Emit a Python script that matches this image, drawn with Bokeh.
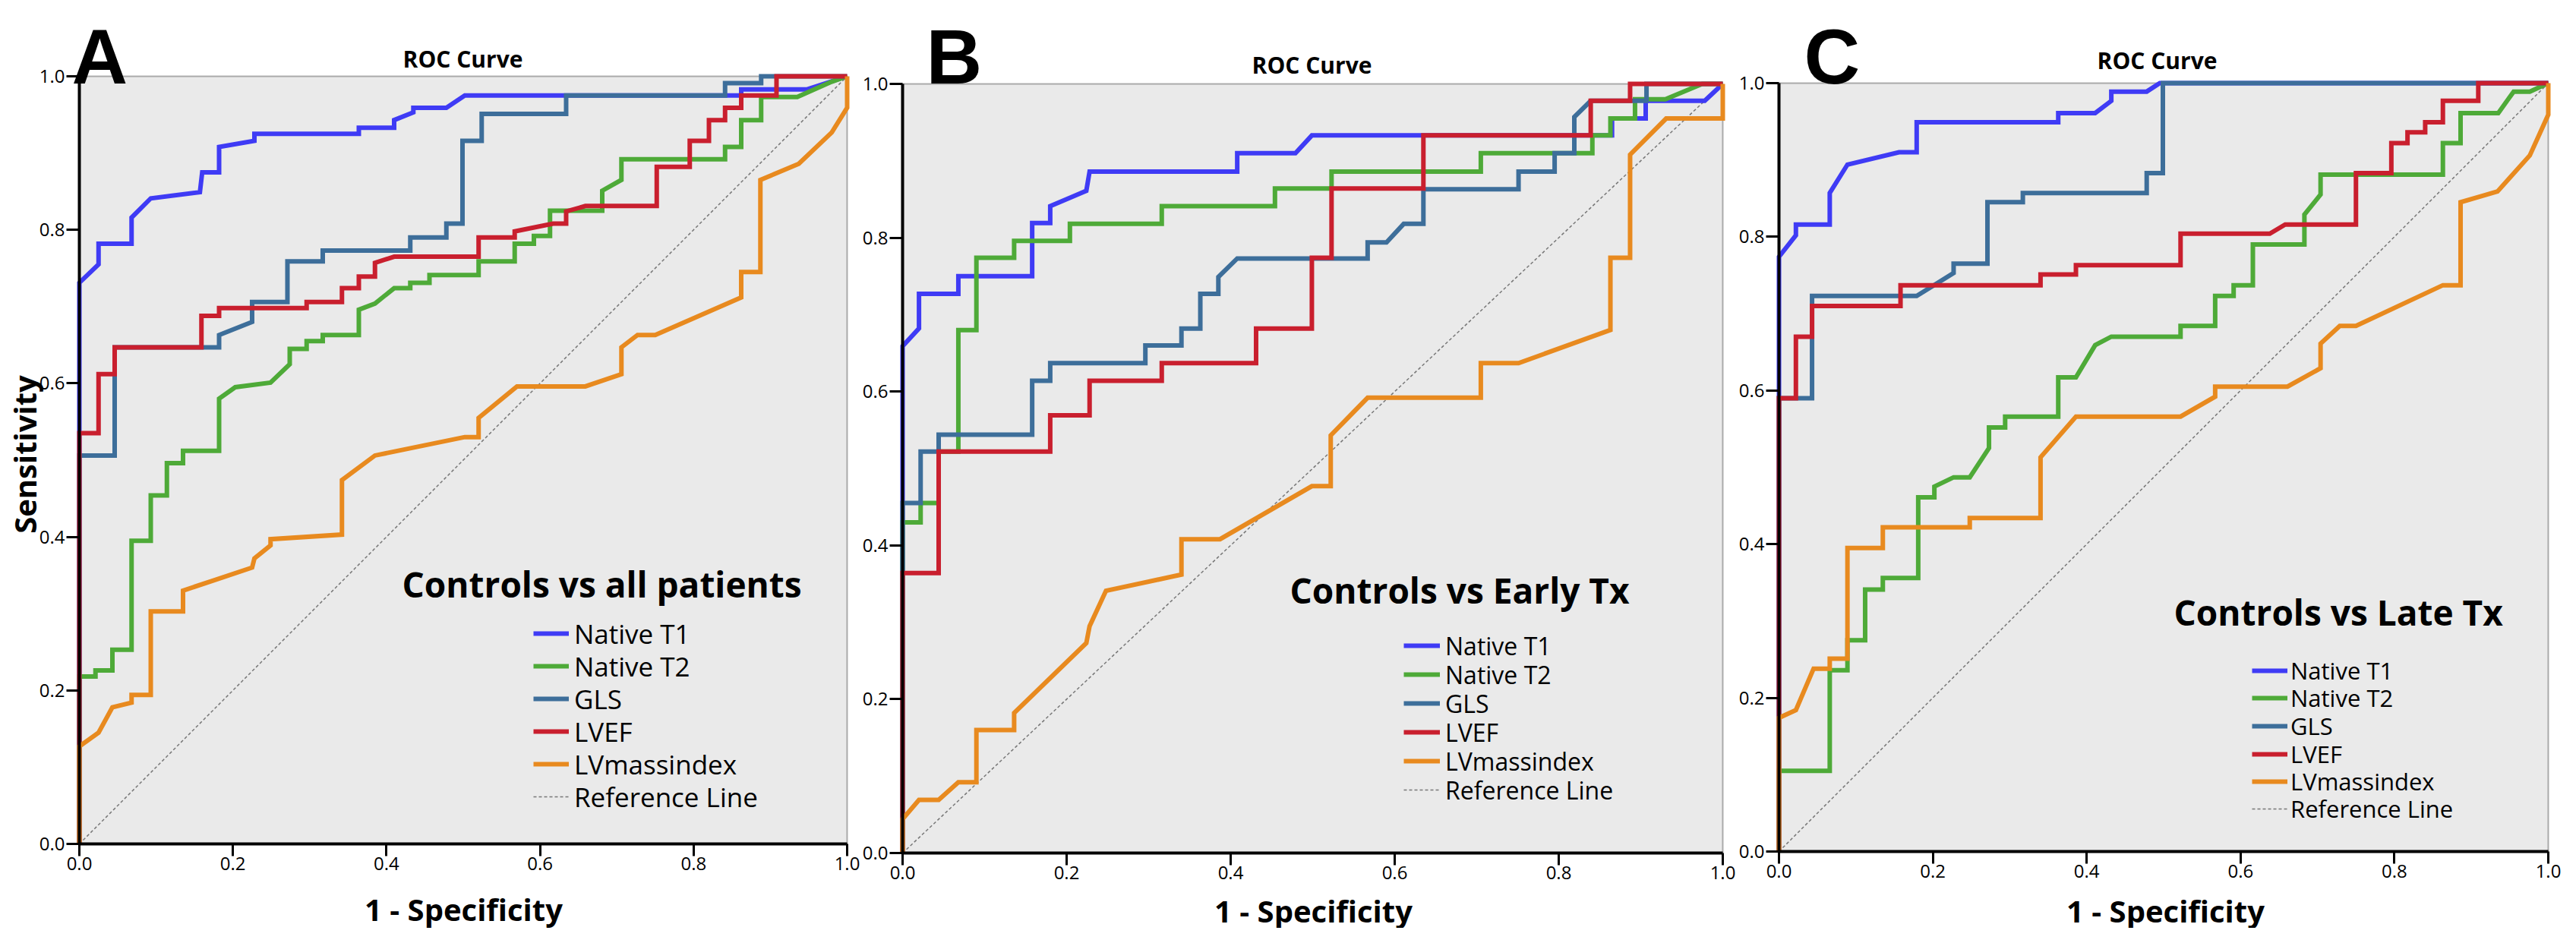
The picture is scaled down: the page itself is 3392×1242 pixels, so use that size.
import math
from bokeh.plotting import figure
from bokeh.models import (Range1d, Label, Legend, LegendItem, FixedTicker, NumeralTickFormatter,
                          BoxAnnotation)
from bokeh.layouts import row
from bokeh.embed import file_html
from bokeh.resources import INLINE

# ---------------- data ----------------
SERIES = ["Native T1", "Native T2", "GLS", "LVEF", "LVmassindex"]
COLORS = ["#3F3BF5", "#4EAA38", "#3D6E9A", "#C91F2E", "#E88A1F"]
TICKS = [0.0, 0.2, 0.4, 0.6, 0.8, 1.0]
REF_X = [0.0, 1.0]
REF_Y = [0.0, 1.0]
PANELS = ["A", "B", "C"]
GROUPS = ["Controls vs all patients", "Controls vs Early Tx", "Controls vs Late Tx"]

# Panel A: Controls vs all patients  (x = 1 - specificity, y = sensitivity)
A_T1_X = [0, 0, 0.025, 0.025, 0.068, 0.068, 0.093, 0.157, 0.160, 0.182, 0.182, 0.228, 0.228, 0.364, 0.364,
          0.41, 0.41, 0.435, 0.435, 0.478, 0.502, 0.862, 0.862, 0.948, 1.0]
A_T1_Y = [0, 0.731, 0.755, 0.782, 0.782, 0.816, 0.841, 0.849, 0.875, 0.875, 0.908, 0.916, 0.925, 0.925, 0.933,
          0.933, 0.943, 0.953, 0.959, 0.959, 0.975, 0.975, 0.983, 0.983, 1.0]
A_T2_X = [0, 0, 0.021, 0.021, 0.043, 0.043, 0.068, 0.068, 0.093, 0.093, 0.114, 0.114, 0.135, 0.135, 0.182,
          0.182, 0.203, 0.249, 0.274, 0.274, 0.296, 0.296, 0.317, 0.317, 0.364, 0.364, 0.385, 0.41, 0.431,
          0.431, 0.456, 0.456, 0.520, 0.520, 0.567, 0.567, 0.592, 0.592, 0.613, 0.613, 0.681, 0.681, 0.706,
          0.706, 0.841, 0.841, 0.862, 0.862, 0.888, 0.888, 0.935, 0.98, 1.0]
A_T2_Y = [0, 0.218, 0.218, 0.226, 0.226, 0.253, 0.253, 0.395, 0.395, 0.454, 0.454, 0.496, 0.496, 0.512, 0.512,
          0.58, 0.595, 0.601, 0.625, 0.645, 0.645, 0.655, 0.655, 0.663, 0.663, 0.696, 0.704, 0.724, 0.724,
          0.731, 0.731, 0.741, 0.741, 0.759, 0.759, 0.782, 0.782, 0.792, 0.792, 0.825, 0.825, 0.851, 0.865,
          0.892, 0.892, 0.908, 0.908, 0.943, 0.943, 0.973, 0.973, 0.993, 1.0]
A_GLS_X = [0, 0, 0.046, 0.046, 0.182, 0.182, 0.225, 0.225, 0.271, 0.271, 0.317, 0.317, 0.431, 0.431, 0.478,
           0.478, 0.499, 0.499, 0.524, 0.524, 0.634, 0.634, 0.841, 0.841, 0.888, 0.888, 1.0]
A_GLS_Y = [0, 0.506, 0.506, 0.647, 0.647, 0.663, 0.680, 0.706, 0.706, 0.759, 0.759, 0.773, 0.773, 0.790, 0.790,
           0.808, 0.808, 0.916, 0.916, 0.951, 0.951, 0.975, 0.975, 0.991, 0.991, 1.0, 1.0]
A_LVEF_X = [0, 0, 0.025, 0.025, 0.046, 0.046, 0.159, 0.159, 0.182, 0.182, 0.296, 0.296, 0.342, 0.342, 0.364,
            0.364, 0.385, 0.385, 0.41, 0.520, 0.520, 0.567, 0.567, 0.617, 0.634, 0.634, 0.659, 0.752, 0.752,
            0.795, 0.795, 0.82, 0.82, 0.841, 0.841, 0.862, 0.862, 0.908, 0.908, 1.0]
A_LVEF_Y = [0, 0.535, 0.535, 0.612, 0.612, 0.647, 0.647, 0.688, 0.688, 0.698, 0.698, 0.706, 0.706, 0.724, 0.724,
            0.739, 0.739, 0.757, 0.765, 0.765, 0.790, 0.790, 0.798, 0.808, 0.808, 0.824, 0.831, 0.831, 0.882,
            0.882, 0.916, 0.916, 0.943, 0.943, 0.959, 0.959, 0.975, 0.975, 1.0, 1.0]
A_LVM_X = [0, 0, 0.025, 0.043, 0.068, 0.068, 0.093, 0.093, 0.135, 0.135, 0.225, 0.228, 0.249, 0.249, 0.342,
           0.342, 0.385, 0.502, 0.52, 0.52, 0.570, 0.659, 0.706, 0.706, 0.727, 0.75, 0.862, 0.862, 0.887,
           0.887, 0.937, 0.98, 1.0, 1.0]
A_LVM_Y = [0, 0.127, 0.145, 0.178, 0.184, 0.194, 0.194, 0.303, 0.303, 0.33, 0.36, 0.372, 0.389, 0.397, 0.403,
           0.474, 0.506, 0.53, 0.53, 0.555, 0.596, 0.596, 0.612, 0.647, 0.663, 0.663, 0.712, 0.745, 0.745,
           0.865, 0.886, 0.927, 0.959, 1.0]

# Panel B: Controls vs Early Tx
B_T1_X = [0, 0, 0.020, 0.020, 0.068, 0.068, 0.158, 0.158, 0.18, 0.18, 0.224, 0.228, 0.408, 0.408, 0.479,
          0.499, 0.865, 0.865, 0.906, 0.906, 0.978, 1.0]
B_T1_Y = [0, 0.659, 0.682, 0.727, 0.727, 0.750, 0.750, 0.819, 0.819, 0.841, 0.861, 0.886, 0.886, 0.91, 0.91,
          0.933, 0.933, 0.955, 0.955, 0.978, 0.978, 1.0]
B_T2_X = [0, 0, 0.022, 0.022, 0.044, 0.044, 0.068, 0.068, 0.09, 0.09, 0.136, 0.136, 0.204, 0.204, 0.316,
          0.316, 0.454, 0.454, 0.523, 0.523, 0.705, 0.705, 0.841, 0.841, 0.863, 0.863, 0.893, 0.893, 0.93,
          0.975, 1.0]
B_T2_Y = [0, 0.430, 0.430, 0.455, 0.455, 0.522, 0.522, 0.68, 0.68, 0.774, 0.774, 0.796, 0.796, 0.818, 0.818,
          0.841, 0.841, 0.864, 0.864, 0.886, 0.886, 0.91, 0.91, 0.933, 0.933, 0.955, 0.955, 0.98, 0.98,
          1.0, 1.0]
B_GLS_X = [0, 0, 0.022, 0.022, 0.044, 0.044, 0.158, 0.158, 0.18, 0.18, 0.296, 0.296, 0.34, 0.34, 0.363,
           0.363, 0.385, 0.385, 0.408, 0.567, 0.567, 0.59, 0.611, 0.635, 0.635, 0.751, 0.751, 0.795, 0.795,
           0.819, 0.819, 0.839, 0.907, 0.907, 1.0]
B_GLS_Y = [0, 0.455, 0.455, 0.522, 0.522, 0.544, 0.544, 0.614, 0.614, 0.637, 0.637, 0.660, 0.660, 0.682, 0.682,
           0.727, 0.727, 0.749, 0.773, 0.773, 0.794, 0.794, 0.818, 0.818, 0.863, 0.863, 0.886, 0.886, 0.91,
           0.91, 0.957, 0.978, 0.978, 1.0, 1.0]
B_LVEF_X = [0, 0, 0.044, 0.044, 0.18, 0.18, 0.228, 0.228, 0.316, 0.316, 0.431, 0.431, 0.499, 0.499, 0.523,
            0.523, 0.635, 0.635, 0.839, 0.839, 0.887, 0.887, 1.0]
B_LVEF_Y = [0, 0.364, 0.364, 0.522, 0.522, 0.569, 0.569, 0.614, 0.614, 0.637, 0.637, 0.682, 0.682, 0.774, 0.774,
            0.864, 0.864, 0.933, 0.933, 0.978, 0.978, 1.0, 1.0]
B_LVM_X = [0, 0, 0.020, 0.044, 0.068, 0.09, 0.09, 0.136, 0.136, 0.224, 0.228, 0.248, 0.34, 0.34, 0.387,
           0.499, 0.522, 0.522, 0.567, 0.705, 0.705, 0.751, 0.863, 0.863, 0.887, 0.887, 0.931, 1.0, 1.0]
B_LVM_Y = [0, 0.044, 0.069, 0.069, 0.092, 0.092, 0.16, 0.16, 0.182, 0.273, 0.295, 0.341, 0.362, 0.408, 0.408,
           0.477, 0.477, 0.543, 0.592, 0.592, 0.637, 0.637, 0.68, 0.774, 0.774, 0.908, 0.955, 0.955, 1.0]

# Panel C: Controls vs Late Tx
C_T1_X = [0, 0, 0.022, 0.022, 0.066, 0.066, 0.089, 0.156, 0.179, 0.179, 0.363, 0.363, 0.411, 0.432, 0.432,
          0.478, 0.495, 1.0]
C_T1_Y = [0, 0.774, 0.802, 0.816, 0.816, 0.857, 0.894, 0.910, 0.910, 0.949, 0.949, 0.961, 0.961, 0.977, 0.989,
          0.989, 1.0, 1.0]
C_T2_X = [0, 0, 0.066, 0.066, 0.089, 0.089, 0.112, 0.112, 0.135, 0.135, 0.181, 0.181, 0.202, 0.202, 0.227,
          0.248, 0.273, 0.273, 0.294, 0.294, 0.363, 0.363, 0.386, 0.411, 0.432, 0.522, 0.522, 0.567, 0.567,
          0.591, 0.591, 0.616, 0.616, 0.683, 0.683, 0.704, 0.704, 0.863, 0.863, 0.886, 0.886, 0.935, 0.955,
          0.976, 1.0]
C_T2_Y = [0, 0.105, 0.105, 0.236, 0.236, 0.275, 0.275, 0.341, 0.341, 0.356, 0.356, 0.461, 0.461, 0.475, 0.487,
          0.487, 0.525, 0.552, 0.552, 0.566, 0.566, 0.617, 0.617, 0.659, 0.67, 0.67, 0.684, 0.684, 0.723,
          0.723, 0.737, 0.737, 0.790, 0.790, 0.829, 0.855, 0.881, 0.881, 0.922, 0.922, 0.961, 0.961, 0.989,
          0.989, 1.0]
C_GLS_X = [0, 0, 0.043, 0.043, 0.179, 0.227, 0.227, 0.271, 0.271, 0.317, 0.317, 0.478, 0.478, 0.499, 0.499, 1.0]
C_GLS_Y = [0, 0.59, 0.59, 0.723, 0.723, 0.753, 0.765, 0.765, 0.845, 0.845, 0.857, 0.857, 0.883, 0.883, 1.0, 1.0]
C_LVEF_X = [0, 0, 0.022, 0.022, 0.043, 0.043, 0.158, 0.158, 0.34, 0.34, 0.386, 0.386, 0.522, 0.522, 0.638,
            0.658, 0.75, 0.75, 0.796, 0.796, 0.817, 0.817, 0.84, 0.84, 0.863, 0.863, 0.909, 0.909, 1.0]
C_LVEF_Y = [0, 0.59, 0.59, 0.67, 0.67, 0.710, 0.710, 0.737, 0.737, 0.751, 0.751, 0.763, 0.763, 0.804, 0.804,
            0.816, 0.816, 0.883, 0.883, 0.922, 0.922, 0.936, 0.936, 0.949, 0.949, 0.977, 0.977, 1.0, 1.0]
C_LVM_X = [0, 0, 0.022, 0.045, 0.066, 0.066, 0.089, 0.089, 0.135, 0.135, 0.248, 0.248, 0.34, 0.34, 0.386,
           0.522, 0.567, 0.567, 0.661, 0.704, 0.704, 0.729, 0.75, 0.863, 0.886, 0.886, 0.934, 0.976, 1.0, 1.0]
C_LVM_Y = [0, 0.174, 0.184, 0.238, 0.238, 0.251, 0.251, 0.395, 0.395, 0.422, 0.422, 0.434, 0.434, 0.513, 0.566,
           0.566, 0.592, 0.605, 0.605, 0.629, 0.661, 0.684, 0.684, 0.737, 0.737, 0.845, 0.859, 0.906, 0.959, 1.0]

CURVES = {
    "A": [(A_T1_X, A_T1_Y), (A_T2_X, A_T2_Y), (A_GLS_X, A_GLS_Y), (A_LVEF_X, A_LVEF_Y), (A_LVM_X, A_LVM_Y)],
    "B": [(B_T1_X, B_T1_Y), (B_T2_X, B_T2_Y), (B_GLS_X, B_GLS_Y), (B_LVEF_X, B_LVEF_Y), (B_LVM_X, B_LVM_Y)],
    "C": [(C_T1_X, C_T1_Y), (C_T2_X, C_T2_Y), (C_GLS_X, C_GLS_Y), (C_LVEF_X, C_LVEF_Y), (C_LVM_X, C_LVM_Y)],
}

# ---------------- layout, in page pixels (8px page margin included) ----------------
PAGE_TOP, PAGE_BOTTOM = 8, 1230
CANVAS_X = {"A": (8, 1141), "B": (1141, 2296), "C": (2296, 3380)}
PLOT_BOX = {"A": (112, 1123, 108, 1119), "B": (1196, 2276, 118, 1131), "C": (2350, 3363, 117, 1129)}
LETTER_AT = {"A": (102, 82), "B": (1227, 82), "C": (2383, 82)}          # left, baseline
TITLE_AT = {"A": (617, 85), "B": (1735, 93), "C": (2848, 87)}          # centre, baseline
XLAB_AT = {"A": (618, 1205), "B": (1737, 1207), "C": (2859, 1207)}     # centre, baseline
GROUP_AT = {"A": (537, 776), "B": (1706, 784), "C": (2870, 813)}       # left, middle
SENS_AT = (40, 606)
LEG = {  # glyph left x, first row centre y, row pitch, glyph width, font size, standoff
    "A": dict(x=710, y=842, pitch=43.0, gw=47, fs="35px", st=7),
    "B": dict(x=1856, y=858, pitch=38.0, gw=48, fs="32px", st=7),
    "C": dict(x=2973, y=891, pitch=36.5, gw=47, fs="31px", st=4),
}
ROW_H = 50
FONT = "Open Sans"


def make_panel(key, group):
    x0, x1 = CANVAS_X[key]
    L, R, T, B = PLOT_BOX[key]
    sx, sy = float(R - L), float(B - T)

    def dx(px):
        return (px - L) / sx

    def dy(py):
        return (B - py) / sy

    p = figure(width=x1 - x0, height=PAGE_BOTTOM - PAGE_TOP,
               x_range=Range1d(dx(x0), dx(x1)), y_range=Range1d(dy(PAGE_BOTTOM), dy(PAGE_TOP)),
               min_border=0, output_backend="svg", toolbar_location=None, title=None)
    p.background_fill_color = "white"
    p.border_fill_color = "white"
    p.outline_line_color = None
    p.grid.visible = False

    # plotting area (grey panel with its frame)
    p.add_layout(BoxAnnotation(left=0, right=1, bottom=0, top=1, fill_color="#EAEAEA", fill_alpha=1.0,
                               line_color="black", line_width=2, level="underlay"))

    for ax in (p.xaxis[0], p.yaxis[0]):
        ax.fixed_location = 0
        ax.bounds = (0, 1)
        ax.ticker = FixedTicker(ticks=TICKS)
        ax.formatter = NumeralTickFormatter(format="0.0")
        ax.axis_line_width = 4
        ax.axis_line_color = "black"
        ax.major_tick_line_width = 3
        ax.major_tick_line_color = "black"
        ax.major_tick_in = 0
        ax.minor_tick_line_color = None
        ax.major_label_text_font = FONT
        ax.major_label_text_font_size = "24px"
        ax.major_label_text_color = "black"
    p.yaxis.major_tick_out = 17
    p.yaxis.major_label_standoff = 2
    p.xaxis.major_tick_out = 16
    p.xaxis.major_label_standoff = 1

    ref = p.line(REF_X, REF_Y, line_color="#777777", line_width=1.5, line_dash="4 3")
    renderers = []
    for (xs, ys), color in zip(CURVES[key], COLORS):
        renderers.append(p.line(xs, ys, line_color=color, line_width=6, line_join="miter"))

    # legend: one entry per Legend so each row sits exactly at the reference pitch
    lg = LEG[key]
    names = SERIES + ["Reference Line"]
    rends = renderers + [ref]
    for i, (name, r) in enumerate(zip(names, rends)):
        centre = lg["y"] + i * lg["pitch"]
        loc = (int(round(lg["x"] - x0)), int(round((PAGE_BOTTOM - centre) - ROW_H / 2.0)))
        p.add_layout(Legend(items=[LegendItem(label=name, renderers=[r])], location=loc,
                            orientation="vertical", glyph_width=lg["gw"], glyph_height=ROW_H,
                            label_height=ROW_H, spacing=0, label_standoff=lg["st"], padding=0,
                            margin=0, border_line_color=None, background_fill_alpha=0,
                            label_text_font=FONT, label_text_font_size=lg["fs"],
                            label_text_color="black"))

    gx, gy = GROUP_AT[key]
    p.add_layout(Label(x=dx(gx), y=dy(gy), text=group, text_font=FONT, text_font_style="bold",
                       text_font_size="46px", text_align="left", text_baseline="middle",
                       text_color="black"))
    lx, ly = LETTER_AT[key]
    p.add_layout(Label(x=dx(lx), y=dy(ly), text=key, text_font="Liberation Sans", text_font_style="bold",
                       text_font_size="102px", text_align="left", text_baseline="alphabetic",
                       text_color="black"))
    tx, ty = TITLE_AT[key]
    p.add_layout(Label(x=dx(tx), y=dy(ty), text="ROC Curve", text_font=FONT, text_font_style="bold",
                       text_font_size="30px", text_align="center", text_baseline="alphabetic",
                       text_color="black"))
    xx, xy = XLAB_AT[key]
    p.add_layout(Label(x=dx(xx), y=dy(xy), text="1 - Specificity", text_font=FONT, text_font_style="bold",
                       text_font_size="40px", text_align="center", text_baseline="alphabetic",
                       text_color="black"))
    if key == "A":
        p.add_layout(Label(x=dx(SENS_AT[0]), y=dy(SENS_AT[1]), text="Sensitivity", text_font=FONT,
                           text_font_style="bold", text_font_size="40px", text_align="center",
                           text_baseline="middle", angle=math.pi / 2, text_color="black"))
    return p


panels = [make_panel(k, grp) for k, grp in zip(PANELS, GROUPS)]
layout = row(*panels, spacing=0)

open("out.html", "w").write(file_html(layout, INLINE))
